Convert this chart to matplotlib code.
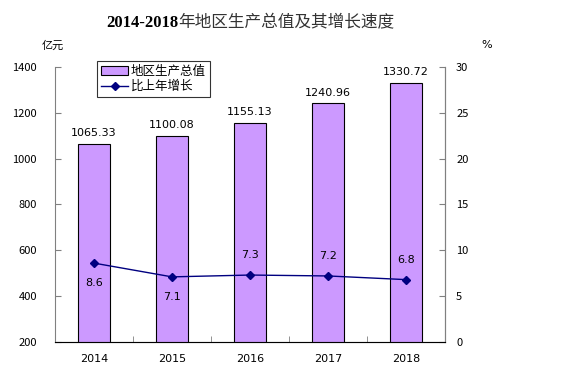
import matplotlib.pyplot as plt
import numpy as np

plt.rcParams['font.family'] = ['Noto Sans CJK SC', 'DejaVu Sans']

years = ['2014', '2015', '2016', '2017', '2018']
gdp = [1065.33, 1100.08, 1155.13, 1240.96, 1330.72]
growth = [8.6, 7.1, 7.3, 7.2, 6.8]
growth_above = [False, False, True, True, True]

fig = plt.figure(figsize=(5.76, 3.87), dpi=100)
ax = fig.add_axes([0.0955, 0.1163, 0.677, 0.711])
x = np.arange(len(years))

ax.bar(x, gdp, width=0.4, bottom=0, color='#CC99FF', edgecolor='black', linewidth=0.8,
       label='地区生产总值', zorder=2)
for xi, v in zip(x, gdp):
    ax.text(xi, v + 25, f'{v:.2f}', ha='center', va='bottom', fontsize=8, family='DejaVu Sans')

ax.set_ylim(200, 1400)
ax.set_xlim(-0.5, 4.5)
ax.set_yticks(range(200, 1401, 200))
ax.set_xticks(x)
ax.set_xticklabels(years, fontsize=8, family='DejaVu Sans')
ax.set_xticks(np.arange(-0.5, 4.6, 1), minor=True)
ax.tick_params(axis='x', which='major', length=0, pad=9)
ax.tick_params(axis='x', which='minor', direction='in', length=4, color='#808080')
ax.tick_params(axis='y', direction='in', length=4, labelsize=8, color='#808080', pad=13)
ax.spines['top'].set_visible(False)
for s in ['left', 'right', 'bottom']:
    ax.spines[s].set_color('#808080')

ax2 = ax.twinx()
ax2.set_ylim(0, 30)
ax2.set_yticks(range(0, 31, 5))
ax2.tick_params(axis='y', direction='in', length=4, labelsize=8, color='#808080', pad=8)
ax2.spines['top'].set_visible(False)
ax2.spines['right'].set_color('#808080')
ax2.spines['left'].set_visible(False)
ax2.plot(x, growth, color='#000080', marker='D', markersize=4, linewidth=1, label='比上年增长')
for xi, v, up in zip(x, growth, growth_above):
    if up:
        ax2.text(xi, v + 1.6, f'{v}', ha='center', va='bottom', fontsize=8, family='DejaVu Sans')
    else:
        ax2.text(xi, v - 1.6, f'{v}', ha='center', va='top', fontsize=8, family='DejaVu Sans')

h1, l1 = ax.get_legend_handles_labels()
h2, l2 = ax2.get_legend_handles_labels()
leg = ax2.legend(h1 + h2, l1 + l2, loc='upper left', bbox_to_anchor=(0.108, 1.02), fontsize=9,
                 frameon=True, fancybox=False, edgecolor='black', handlelength=2.2,
                 borderpad=0.3, labelspacing=0.15, handletextpad=0.2, borderaxespad=0)
leg.get_frame().set_linewidth(0.8)

fig.text(0.073, 0.875, '亿元', fontsize=8)
fig.text(0.835, 0.875, '%', fontsize=8, family='DejaVu Sans')

t1 = fig.text(0.185, 0.94, '2014-2018', ha='left', va='center', fontsize=12,
              fontweight='bold', family='Liberation Serif')
fig.canvas.draw()
ax.annotate('年地区生产总值及其增长速度', xy=(1, 0.5), xycoords=t1, ha='left', va='center',
            fontsize=12, color='#333333', annotation_clip=False)

fig.savefig('out.png', dpi=100)
